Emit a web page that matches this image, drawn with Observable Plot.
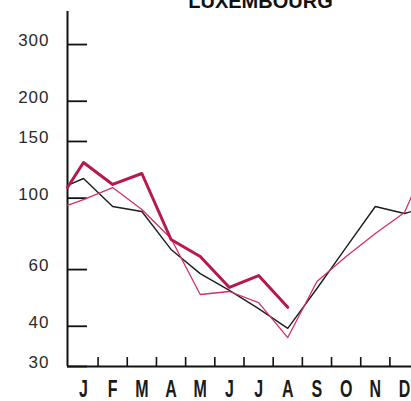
<!DOCTYPE html>
<html><head><meta charset="utf-8">
<script src="https://cdn.jsdelivr.net/npm/d3@7"></script>
<script src="https://cdn.jsdelivr.net/npm/@observablehq/plot@0.6"></script>
<style>
body{margin:0;background:#fff}
svg{display:block}
</style>
</head><body><div id="chart"></div>
<script>
// ---- data ----
const title = "LUXEMBOURG";
const months = ["J","F","M","A","M","J","J","A","S","O","N","D"];
const yTicks = [30, 40, 60, 100, 150, 200, 300];
// x positions: left frame edge, Jan..Dec (0..11), right frame edge
const edgeLeft = -0.548, edgeRight = 11.24;
const positions = [edgeLeft, 0, 1, 2, 3, 4, 5, 6, 7, 8, 9, 10, 11, edgeRight];
const seriesBlack = [109.5, 115.1, 94.2, 90.9, 69.3, 58.3, 51.7, 45.4, 39.4, 52.4, 70.3, 94.2, 89.6, 90.9];
const seriesThin  = [94.9, 99.0, 107.9, 92.2, 74.9, 50.2, 51.3, 47.4, 36.9, 55.1, 65.9, 77.7, 90.2, 101.2];
const seriesThick = [107.9, 129.0, 110.3, 119.3, 74.4, 65.9, 52.8, 57.5, 45.8, null, null, null, null, null];

// ---- layout ----
const W = 411, H = 401, mL = 67, mR = 0, mT = 11, mB = 35;
const yDomain = [30, 380];
const pxPerX = (W - mL - mR) / (edgeRight - edgeLeft);
const yTickLen = 20 / pxPerX;
const xTickTop = yDomain[0] * Math.pow(yDomain[1] / yDomain[0], 9 / (H - mT - mB));
const xTickPositions = months.slice(0, 11).map((_, i) => i + 0.5);
const rows = arr => positions.map((x, i) => ({x, v: arr[i]})).filter(d => d.v != null);

const plot = Plot.plot({
  width: W, height: H,
  marginLeft: mL, marginRight: mR, marginTop: mT, marginBottom: mB,
  style: {background: "#fff", fontFamily: "'Liberation Sans', Arial, sans-serif", overflow: "visible"},
  x: {type: "linear", domain: [edgeLeft, edgeRight], axis: null},
  y: {type: "log", domain: yDomain, axis: null},
  marks: [
    Plot.ruleY(yTicks, {y: d => d, x1: edgeLeft, x2: edgeLeft + yTickLen, stroke: "#111", strokeWidth: 1.8}),
    Plot.ruleX(xTickPositions, {x: d => d, y1: yDomain[0], y2: xTickTop, stroke: "#111", strokeWidth: 1.6}),
    Plot.ruleX([edgeLeft], {stroke: "#111", strokeWidth: 2}),
    Plot.ruleY([yDomain[0]], {stroke: "#111", strokeWidth: 2}),
    Plot.line(rows(seriesBlack), {x: "x", y: "v", stroke: "#1c1c1c", strokeWidth: 1.4}),
    Plot.line(rows(seriesThin), {x: "x", y: "v", stroke: "#d2306a", strokeWidth: 1.3}),
    Plot.line(rows(seriesThick), {x: "x", y: "v", stroke: "#b8174f", strokeWidth: 3}),
    Plot.text(yTicks, {x: edgeLeft, y: d => d, text: d => String(d), textAnchor: "end", dx: -18, dy: -4,
      fontSize: 17, fill: "#2a2a2a"}),
    Plot.text(months, {x: (d, i) => i, y: yDomain[0], text: d => d, dy: 23, fontSize: 16, fontWeight: "bold",
      fill: "#1a1a1a"}),
    Plot.text([title], {frameAnchor: "top", dx: 21, dy: -4, lineAnchor: "bottom", fontSize: 20,
      fontWeight: "bold", fill: "#111", text: d => d})
  ]
});
document.getElementById("chart").appendChild(plot);

// styling of label groups: spaced y numbers, tall narrow month letters
const textGroups = plot.querySelectorAll('g[aria-label="text"]');
if (textGroups.length >= 2) {
  textGroups[0].querySelectorAll("text").forEach(t => t.style.letterSpacing = "1px");
  textGroups[1].querySelectorAll("text").forEach(t => {
    const tr = t.getAttribute("transform");
    if (tr) {
      t.setAttribute("transform", tr + " scale(1,1.45)");
    } else {
      const x = +t.getAttribute("x") || 0, y = +t.getAttribute("y") || 0;
      t.setAttribute("transform", `translate(${x},${y}) scale(1,1.45) translate(${-x},${-y})`);
    }
  });
}
</script>
</body></html>
